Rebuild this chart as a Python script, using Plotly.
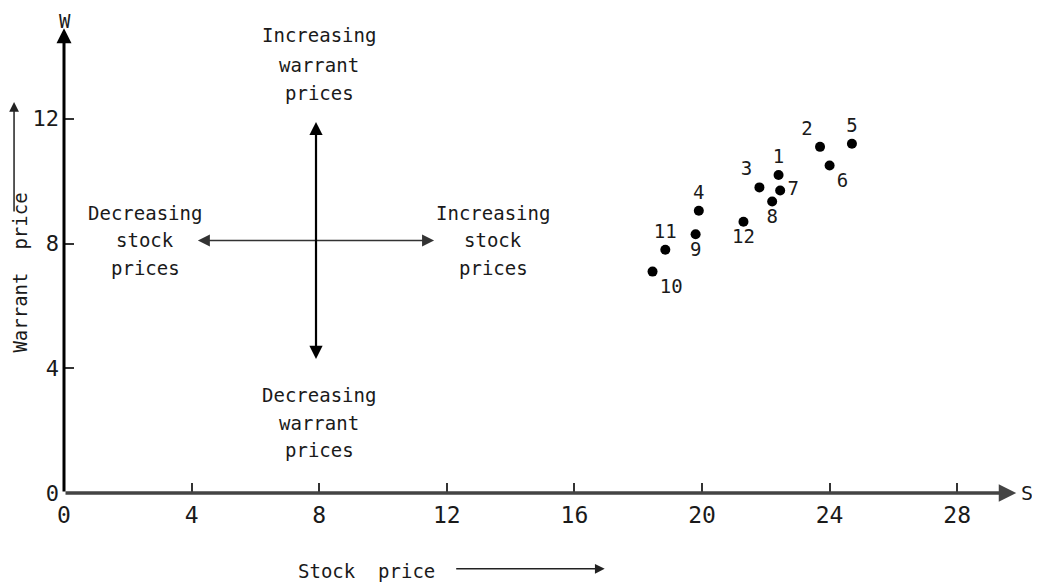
import plotly.graph_objects as go

# warrant price vs stock price, one dot per numbered observation
point_labels = ["1", "2", "3", "4", "5", "6", "7", "8", "9", "10", "11", "12"]
stock_price = [22.4, 23.7, 21.8, 19.9, 24.7, 24.0, 22.45, 22.2, 19.8, 18.45, 18.85, 21.3]
warrant_price = [10.2, 11.1, 9.8, 9.05, 11.2, 10.5, 9.7, 9.35, 8.3, 7.1, 7.8, 8.7]
label_pos = ["top center", "top left", "top left", "top center", "top center", "bottom right",
             "middle right", "bottom center", "bottom center", "bottom right", "top center",
             "bottom center"]

x_ticks = [0, 4, 8, 12, 16, 20, 24, 28]
y_ticks = [0, 4, 8, 12]

FONT = "DejaVu Sans Mono"
INK = "#1a1a1a"

fig = go.Figure()
fig.add_trace(go.Scatter(
    x=stock_price, y=warrant_price,
    mode="markers+text",
    text=point_labels,
    textposition=label_pos,
    textfont=dict(family=FONT, size=19, color=INK),
    marker=dict(color="black", size=10),
    cliponaxis=False,
    showlegend=False,
))

annotations = []

# axes drawn as arrows
annotations.append(dict(x=29.85, y=0, ax=0, ay=0, xref="x", yref="y", axref="x", ayref="y",
                        text="", showarrow=True, arrowhead=2, arrowsize=1.0, arrowwidth=3.5,
                        arrowcolor="#444"))
annotations.append(dict(x=0, y=14.9, ax=0, ay=0, xref="x", yref="y", axref="x", ayref="y",
                        text="", showarrow=True, arrowhead=2, arrowsize=1.0, arrowwidth=3,
                        arrowcolor="black"))

# the cross of arrows around (8, 8)
annotations.append(dict(x=11.6, y=8.1, ax=4.15, ay=8.1, xref="x", yref="y", axref="x", ayref="y",
                        text="", showarrow=True, arrowhead=2, arrowside="end+start",
                        arrowsize=1.6, arrowwidth=1.5, arrowcolor="#333"))
annotations.append(dict(x=7.9, y=11.9, ax=7.9, ay=4.25, xref="x", yref="y", axref="x", ayref="y",
                        text="", showarrow=True, arrowhead=2, arrowside="end+start",
                        arrowsize=1.2, arrowwidth=2.2, arrowcolor="black"))


def words(lines, x, ys):
    for line, y in zip(lines, ys):
        annotations.append(dict(x=x, y=y, xref="x", yref="y", text=line, showarrow=False,
                                xanchor="center", yanchor="middle",
                                font=dict(family=FONT, size=19, color=INK)))


words(["Increasing", "warrant", "prices"], 8.0, [14.69, 13.73, 12.83])
words(["Decreasing", "stock", "prices"], 2.55, [8.98, 8.12, 7.22])
words(["Increasing", "stock", "prices"], 13.45, [8.98, 8.12, 7.22])
words(["Decreasing", "warrant", "prices"], 8.0, [3.14, 2.25, 1.38])


def label(text, x, y, angle=0, size=20):
    annotations.append(dict(x=x, y=y, xref="paper", yref="paper", text=text, showarrow=False,
                            xanchor="center", yanchor="middle", textangle=angle,
                            font=dict(family=FONT, size=size, color=INK)))


def pointer(x, y, ax, ay):
    annotations.append(dict(x=x, y=y, xref="paper", yref="paper", text="",
                            showarrow=True, ax=ax, ay=ay, arrowhead=2, arrowsize=1.3,
                            arrowwidth=1.5, arrowcolor="#222"))


# axis names
label("W", 0.001, 0.995, size=19)
label("S", 1.006, 0)
label("Warrant  price", -0.0455, 0.466, angle=-90, size=19)
pointer(-0.0522, 0.825, 0, 111)
label("Stock  price", 0.3156, -0.165, size=19)
pointer(0.565, -0.160, -150, 0)

# the page body has an 8px margin, so the figure is drawn 8px smaller
fig.update_layout(
    width=1032, height=577,
    margin=dict(l=56, r=19, t=11, b=92),
    paper_bgcolor="white", plot_bgcolor="white",
    annotations=annotations,
    xaxis=dict(range=[0, 30], tickvals=x_ticks, ticktext=[str(v) for v in x_ticks],
               ticks="inside", ticklen=10, tickwidth=1.5, tickcolor="#333",
               showgrid=False, zeroline=False, showline=False, ticklabelstandoff=6,
               tickfont=dict(family=FONT, size=23, color=INK)),
    yaxis=dict(range=[0, 15.2], tickvals=y_ticks, ticktext=[str(v) for v in y_ticks],
               ticks="inside", ticklen=10, tickwidth=1.5, tickcolor="#333",
               showgrid=False, zeroline=False, showline=False, ticklabelstandoff=4,
               tickfont=dict(family=FONT, size=22, color=INK)),
)

fig.write_html("out.html")
